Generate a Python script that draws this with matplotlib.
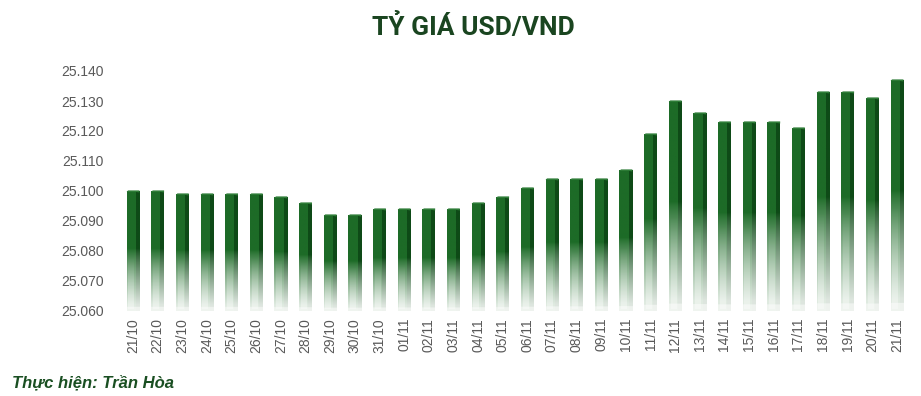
import numpy as np
import matplotlib
matplotlib.use("Agg")
import matplotlib.pyplot as plt
from matplotlib.colors import to_rgb
from matplotlib.patches import Polygon

dates = ["21/10", "22/10", "23/10", "24/10", "25/10", "26/10", "27/10", "28/10",
         "29/10", "30/10", "31/10", "01/11", "02/11", "03/11", "04/11", "05/11",
         "06/11", "07/11", "08/11", "09/11", "10/11", "11/11", "12/11", "13/11",
         "14/11", "15/11", "16/11", "17/11", "18/11", "19/11", "20/11", "21/11"]
rates = [25.100, 25.100, 25.099, 25.099, 25.099, 25.099, 25.098, 25.096,
         25.092, 25.092, 25.094, 25.094, 25.094, 25.094, 25.096, 25.098,
         25.101, 25.104, 25.104, 25.104, 25.107, 25.119, 25.130, 25.126,
         25.123, 25.123, 25.123, 25.121, 25.133, 25.133, 25.131, 25.137]
yticks = [25.060, 25.070, 25.080, 25.090, 25.100, 25.110, 25.120, 25.130, 25.140]
ytick_labels = ["25.060", "25.070", "25.080", "25.090", "25.100",
                "25.110", "25.120", "25.130", "25.140"]

plt.rcParams['font.family'] = ['Liberation Sans', 'DejaVu Sans']

W, H = 921, 396
fig = plt.figure(figsize=(W / 100, H / 100), dpi=100)
left_px, right_px = 120.7, 909.3
ax = fig.add_axes([left_px / W, (H - 311) / H, (right_px - left_px) / W, (311 - 71) / H])

ymin, ymax = yticks[0], yticks[-1]
body_c = np.array(to_rgb("#1d6b27"))
side_c = np.array(to_rgb("#0e4a17"))
white = np.array([1.0, 1.0, 1.0])


def grad(color, n=200):
    t = np.linspace(0, 1, n)  # 0 top, 1 bottom
    f = np.clip((t - 0.48) / 0.47, 0, 1) ** 0.8 * 0.86
    f = np.where(t > 0.965, 0.93, f)
    arr = color[None, :] * (1 - f[:, None]) + white[None, :] * f[:, None]
    return arr[:, None, :]


bw, sw = 0.37, 0.15
a = np.linspace(0, 1, 200)
alpha = np.clip((a - 0.55) / 0.4, 0, 1) * 0.35
hl_img = np.concatenate([np.ones((200, 1, 3)), alpha[:, None, None]], axis=2)

for i, v in enumerate(rates):
    x0 = i - (bw + sw) / 2
    top = v - 0.0003
    ax.imshow(grad(body_c), extent=[x0, x0 + bw, ymin, top], aspect='auto',
              interpolation='bilinear', zorder=2)
    ax.imshow(grad(side_c), extent=[x0 + bw, x0 + bw + sw, ymin, top],
              aspect='auto', interpolation='bilinear', zorder=2)
    ax.imshow(hl_img, extent=[x0 + 0.07, x0 + bw - 0.07, ymin + 0.0008, top],
              aspect='auto', interpolation='bilinear', zorder=3)
    cap = Polygon([[x0, top], [x0 + 0.06, v + 0.0002], [x0 + bw + sw, v + 0.0002],
                   [x0 + bw + sw, top - 0.0002], [x0 + bw, top]],
                  closed=True, facecolor="#2f7d38", edgecolor='none', zorder=4)
    ax.add_patch(cap)

ax.set_xlim(-0.5, len(rates) - 0.5)
ax.set_ylim(ymin, ymax)
ax.set_yticks(yticks)
ax.set_yticklabels(ytick_labels)
ax.set_xticks(range(len(dates)))
ax.set_xticklabels(dates, rotation=90)
ax.tick_params(axis='y', length=0, pad=12, labelsize=10, labelcolor="#595959")
ax.tick_params(axis='x', length=0, pad=5, labelsize=10, labelcolor="#595959")
for s in ax.spines.values():
    s.set_visible(False)

fig.text(473 / W, 1 - 27 / H, "TỶ GIÁ USD/VND", ha='center', va='center',
         fontsize=19, fontweight='bold', color="#1a4520", family=['Roboto', 'DejaVu Sans'])
fig.text(12 / W, 1 - 383 / H, "Thực hiện: Trần Hòa", ha='left', va='center',
         fontsize=12, fontweight='bold', fontstyle='italic', color="#1a4f22")

fig.savefig("out.png", dpi=100)
